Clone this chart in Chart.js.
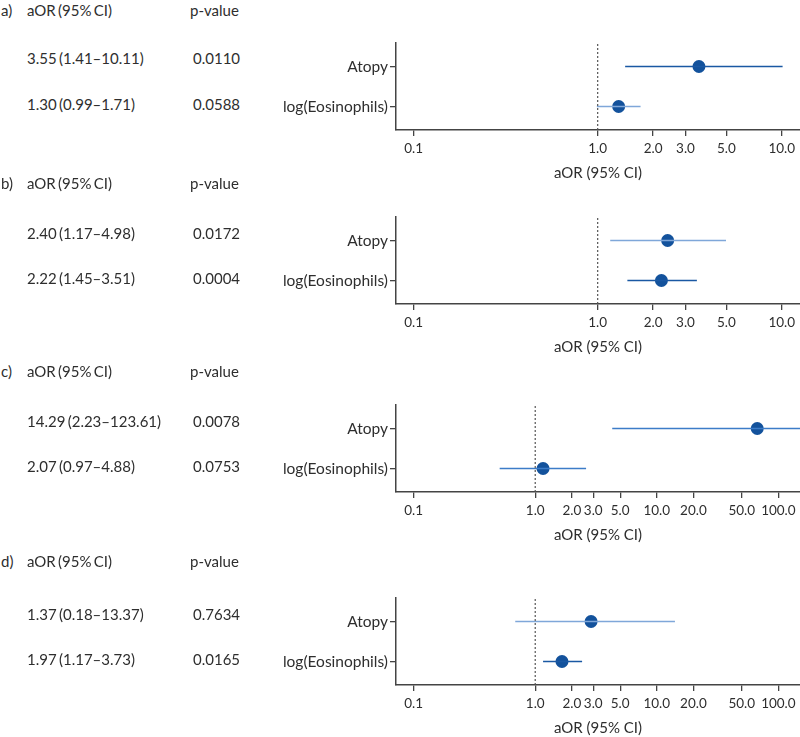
<!DOCTYPE html>
<html><head><meta charset="utf-8">
<script src="https://cdn.jsdelivr.net/npm/chart.js@4.4.1/dist/chart.umd.min.js"></script>
<style>
html,body{margin:0;padding:0;background:#fff}
body{width:800px;height:737px;overflow:hidden;position:relative;font-family:Lato,"Noto Sans",sans-serif;color:#2e2e2e}
.t{position:absolute;font-size:15px;white-space:nowrap;line-height:18px;height:18px;margin-top:-9px;word-spacing:-1.5px}
canvas{position:absolute;left:0}
</style></head><body>
<script>
// ---- data ----
const panelLetters = ['a)', 'b)', 'c)', 'd)'];
const rowLabels = ['Atopy', 'log(Eosinophils)'];
const headerEst = 'aOR (95% CI)';
const headerP = 'p-value';
const axisTitle = 'aOR (95% CI)';

const ciTextA = ['3.55 (1.41–10.11)', '1.30 (0.99–1.71)'];
const pTextA = ['0.0110', '0.0588'];
const ciTextB = ['2.40 (1.17–4.98)', '2.22 (1.45–3.51)'];
const pTextB = ['0.0172', '0.0004'];
const ciTextC = ['14.29 (2.23–123.61)', '2.07 (0.97–4.88)'];
const pTextC = ['0.0078', '0.0753'];
const ciTextD = ['1.37 (0.18–13.37)', '1.97 (1.17–3.73)'];
const pTextD = ['0.7634', '0.0165'];

// plotted estimates and CI (Atopy, log(Eosinophils))
const estA = [3.55, 1.30];
const loA = [1.41, 0.99];
const hiA = [10.11, 1.71];
const estB = [2.40, 2.22];
const loB = [1.17, 1.45];
const hiB = [4.98, 3.46];
const estC = [67, 1.16];
const loC = [4.3, 0.51];
const hiC = [300, 2.62];
const estD = [2.88, 1.66];
const loD = [0.685, 1.16];
const hiD = [14.1, 2.43];

const ticksAB = [0.1, 1, 2, 3, 5, 10];
const ticksCD = [0.1, 1, 2, 3, 5, 10, 20, 50, 100];
const refValue = 1;

// ---- styles / layout ----
const DARK = '#1a58a3', LIGHT = '#7fa7d9', MID = '#3c7cc8', DOT = '#13529c';
const layoutInfo = [
  {top: 0,   xMin: 0.0802, xMax: 12.57, ticks: ticksAB, est: estA, lo: loA, hi: hiA, ci: ciTextA, p: pTextA, colors: [DARK, LIGHT], hdrY: 10, r1Y: 58, r2Y: 104},
  {top: 174, xMin: 0.0802, xMax: 12.57, ticks: ticksAB, est: estB, lo: loB, hi: hiB, ci: ciTextB, p: pTextB, colors: [LIGHT, DARK], hdrY: 183, r1Y: 233, r2Y: 278},
  {top: 362, xMin: 0.0716, xMax: 150.6, ticks: ticksCD, est: estC, lo: loC, hi: hiC, ci: ciTextC, p: pTextC, colors: [MID, MID], hdrY: 371, r1Y: 421, r2Y: 466},
  {top: 555, xMin: 0.0716, xMax: 150.6, ticks: ticksCD, est: estD, lo: loD, hi: hiD, ci: ciTextD, p: pTextD, colors: [LIGHT, DARK], hdrY: 561, r1Y: 614, r2Y: 659}
];
const rowY = [1, 0]; // Atopy on top
const Y_MIN = -0.5875, Y_MAX = 1.5875;
const FONT = 'Lato';

function addText(txt, x, y) {
  const d = document.createElement('div');
  d.className = 't';
  d.textContent = txt;
  d.style.left = x + 'px';
  d.style.top = y + 'px';
  document.body.appendChild(d);
}

layoutInfo.forEach((P, k) => {
  addText(panelLetters[k], 1, P.hdrY);
  addText(headerEst, 27, P.hdrY);
  addText(headerP, 190, P.hdrY);
  addText(P.ci[0], 27, P.r1Y);
  addText(P.p[0], 193, P.r1Y);
  addText(P.ci[1], 27, P.r2Y);
  addText(P.p[1], 193, P.r2Y);

  const cv = document.createElement('canvas');
  cv.width = 800; cv.height = 182;
  cv.style.top = P.top + 'px';
  cv.style.width = '800px'; cv.style.height = '182px';
  document.body.appendChild(cv);

  const datasets = [
    {type: 'line', data: [{x: refValue, y: Y_MIN}, {x: refValue, y: Y_MAX}], borderColor: '#555', borderWidth: 1.2, borderDash: [2, 2], pointRadius: 0}
  ];
  rowLabels.forEach((lab, i) => {
    datasets.push({type: 'line', data: [{x: P.lo[i], y: rowY[i]}, {x: P.hi[i], y: rowY[i]}], borderColor: P.colors[i], borderWidth: 1.6, pointRadius: 0});
  });
  datasets.push({type: 'scatter', data: P.est.map((v, i) => ({x: v, y: rowY[i]})), backgroundColor: DOT, borderWidth: 0, pointRadius: 6.5, pointHoverRadius: 6.5});

  new Chart(cv.getContext('2d'), {
    type: 'scatter',
    data: {datasets},
    options: {
      responsive: false, animation: false, devicePixelRatio: 1,
      layout: {autoPadding: false, padding: {top: 43, left: 0, right: 0, bottom: 0}},
      plugins: {legend: {display: false}, tooltip: {enabled: false}},
      scales: {
        x: {
          type: 'logarithmic', min: P.xMin, max: P.xMax,
          afterBuildTicks: s => { s.ticks = P.ticks.map(v => ({value: v})); },
          afterFit: s => { s.height = 52; s.paddingLeft = 0; s.paddingRight = 0; },
          ticks: {autoSkip: false, maxRotation: 0, minRotation: 0, padding: 5, color: '#2e2e2e', font: {family: FONT, size: 13.5},
            callback: v => Number(v).toFixed(1)},
          grid: {display: true, drawOnChartArea: false, drawTicks: true, tickLength: 6, color: '#444', lineWidth: 1.3},
          border: {display: true, color: '#444', width: 1.5},
          title: {display: true, text: axisTitle, color: '#2e2e2e', font: {family: FONT, size: 15}, padding: {top: 0, bottom: 0}}
        },
        y: {
          type: 'linear', min: Y_MIN, max: Y_MAX,
          afterBuildTicks: s => { s.ticks = rowY.map(v => ({value: v})); },
          afterFit: s => { s.width = 396; },
          ticks: {autoSkip: false, padding: 2, color: '#2e2e2e', font: {family: FONT, size: 15.5},
            callback: v => rowLabels[rowY.indexOf(v)]},
          grid: {display: true, drawOnChartArea: false, drawTicks: true, tickLength: 6, color: '#444', lineWidth: 1.3},
          border: {display: true, color: '#444', width: 1.5}
        }
      }
    }
  });
});
</script>
</body></html>
